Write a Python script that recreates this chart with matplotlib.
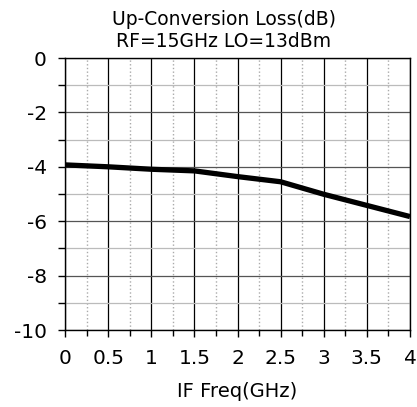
import numpy as np
import matplotlib.pyplot as plt
from matplotlib.ticker import MultipleLocator

# Datos
freq = [0, 0.5, 1, 1.5, 2, 2.5, 3, 3.5, 4]
loss = [-3.93, -4.0, -4.09, -4.15, -4.36, -4.55, -5.01, -5.42, -5.83]
x_ticks = [0, 0.5, 1, 1.5, 2, 2.5, 3, 3.5, 4]
x_labels = ['0', '0.5', '1', '1.5', '2', '2.5', '3', '3.5', '4']
y_ticks = [0, -2, -4, -6, -8, -10]

plt.rcParams['font.family'] = ['DejaVu Sans']
plt.rcParams['axes.unicode_minus'] = False

fig = plt.figure(figsize=(4.17, 4.07), dpi=100)
ax = fig.add_axes([65 / 417, 1 - 330 / 407, 345 / 417, 272 / 407])

ax.plot(freq, loss, color='black', linewidth=3.8, solid_capstyle='butt', zorder=5)

ax.set_xlim(0, 4)
ax.set_ylim(-10, 0)
ax.set_xticks(x_ticks)
ax.set_xticklabels(x_labels)
ax.set_yticks(y_ticks)
ax.xaxis.set_minor_locator(MultipleLocator(0.25))
ax.yaxis.set_minor_locator(MultipleLocator(1))

ax.grid(which='major', axis='x', color='black', linewidth=0.9)
ax.grid(which='minor', axis='x', color='#aaaaaa', linestyle=':', linewidth=1.0)
ax.grid(which='major', axis='y', color='#555555', linewidth=0.9)
ax.grid(which='minor', axis='y', color='#bbbbbb', linewidth=0.9)

ax.tick_params(which='major', length=5, width=1, labelsize=14.5)
ax.tick_params(axis='x', which='major', pad=9)
ax.tick_params(axis='y', which='major', pad=8)
ax.tick_params(which='minor', length=4, width=1)
ax.tick_params(axis='y', which='minor', length=5)
for s in ax.spines.values():
    s.set_linewidth(1.0)

ax.set_title('Up-Conversion Loss(dB)\nRF=15GHz LO=13dBm', fontsize=13.5,
             linespacing=1.2, pad=8, x=0.46)
ax.set_xlabel('IF Freq(GHz)', fontsize=14, labelpad=10)

plt.savefig('out.png', dpi=100)
